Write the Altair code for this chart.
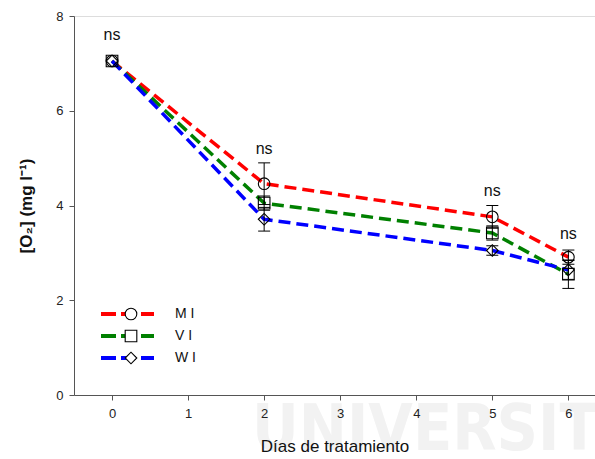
import altair as alt
import pandas as pd

days = [0, 2, 5, 6]
series = ["M I", "V I", "W I"]
mi = [7.05, 4.46, 3.76, 2.91]
mi_err = [0.0, 0.44, 0.24, 0.15]
vi = [7.05, 4.05, 3.42, 2.55]
vi_err = [0.0, 0.15, 0.15, 0.3]
wi = [7.05, 3.71, 3.05, 2.64]
wi_err = [0.0, 0.25, 0.1, 0.2]
ns_y = [7.6, 5.2, 4.3, 3.4]
colors = ["#ff0000", "#008000", "#0000ff"]
shapes = ["circle", "square", "diamond"]

rows = []
for name, vals, errs in zip(series, [mi, vi, wi], [mi_err, vi_err, wi_err]):
    for d, v, e in zip(days, vals, errs):
        rows.append({"day": d, "value": v, "lo": v - e, "hi": v + e, "series": name, "err": e})
df = pd.DataFrame(rows)
ns_df = pd.DataFrame({"day": days, "y": ns_y, "t": ["ns"] * 4})
leg_df = pd.DataFrame({"series": series, "row": [0, 1, 2]})

FONT = "Liberation Sans"
xs = alt.Scale(domain=[-0.5, 6.35], nice=False, zero=False)
ys = alt.Scale(domain=[0, 8], nice=False)
cs = alt.Scale(domain=series, range=colors)
ss = alt.Scale(domain=series, range=shapes)

X = alt.X("day:Q", scale=xs, axis=alt.Axis(values=list(range(7)), format="d", title="Días de tratamiento",
          grid=False, tickSize=5, labelPadding=7, titlePadding=18, labelFontSize=13, titleFontSize=17,
          labelFont=FONT, titleFont=FONT, titleFontWeight="normal", domainColor="#555", tickColor="#555",
          labelColor="#222", titleColor="#111", zindex=1))
Y = alt.Y("value:Q", scale=ys, axis=alt.Axis(values=[0, 2, 4, 6, 8], title="[O₂] (mg l⁻¹)", grid=False,
          tickSize=5, labelPadding=6, titlePadding=20, labelFontSize=13, titleFontSize=17, labelFont=FONT,
          titleFont=FONT, titleFontWeight="bold", domainColor="#555", tickColor="#555",
          labelColor="#222", titleColor="#111", zindex=1))

wm = alt.Chart(pd.DataFrame({"t": ["UNIVERSIT"]})).mark_text(
    align="left", baseline="alphabetic", font="Liberation Sans Narrow, DejaVu Sans Condensed",
    fontSize=64, fontWeight="bold", color="#f2f2f2"
).encode(x=alt.value(178), y=alt.value(434), text="t:N")

lines = alt.Chart(df).mark_line(strokeWidth=3.5, strokeDash=[12, 6]).encode(
    x=X, y=Y, color=alt.Color("series:N", scale=cs, legend=None), detail="series:N")

ebase = alt.Chart(df).transform_filter("datum.err > 0")
err = ebase.mark_rule(color="black", strokeWidth=1).encode(x=X, y=alt.Y("lo:Q", scale=ys), y2="hi:Q")
cap_lo = ebase.mark_rule(color="black", strokeWidth=1, xOffset=-6, x2Offset=6).encode(
    x=X, x2="day:Q", y=alt.Y("lo:Q", scale=ys))
cap_hi = ebase.mark_rule(color="black", strokeWidth=1, xOffset=-6, x2Offset=6).encode(
    x=X, x2="day:Q", y=alt.Y("hi:Q", scale=ys))

pts = alt.Chart(df).mark_point(filled=False, color="black", size=135, strokeWidth=1.1, opacity=1).encode(
    x=X, y=Y, shape=alt.Shape("series:N", scale=ss, legend=None))

ns = alt.Chart(ns_df).mark_text(font=FONT, fontSize=16, color="#111").encode(
    x=alt.X("day:Q", scale=xs), y=alt.Y("y:Q", scale=ys), text="t:N")

leg_base = alt.Chart(leg_df).transform_calculate(py="298 + 22 * datum.row")
leg_line = leg_base.mark_rule(strokeWidth=4, strokeDash=[15, 5]).encode(
    x=alt.value(27), x2=alt.value(80), y=alt.Y("py:Q", scale=None),
    color=alt.Color("series:N", scale=cs, legend=None))
leg_pt = leg_base.mark_point(filled=True, fill="white", stroke="black", size=135, strokeWidth=1.1,
                             opacity=1, fillOpacity=1).encode(
    x=alt.value(57), y=alt.Y("py:Q", scale=None),
    shape=alt.Shape("series:N", scale=ss, legend=None))
leg_txt = leg_base.mark_text(align="left", font=FONT, fontSize=14, color="#111").encode(
    x=alt.value(101), y=alt.Y("py:Q", scale=None), text="series:N")

chart = alt.layer(wm, lines, err, cap_lo, cap_hi, pts, ns, leg_line, leg_pt, leg_txt).properties(
    width=521, height=379, autosize=alt.AutoSizeParams(type="none"),
    padding={"left": 74, "top": 16, "right": 0, "bottom": 64}
).configure_view(stroke=None).configure(background="white")

chart.save("out.html", embed_options={"renderer": "svg", "actions": False})
